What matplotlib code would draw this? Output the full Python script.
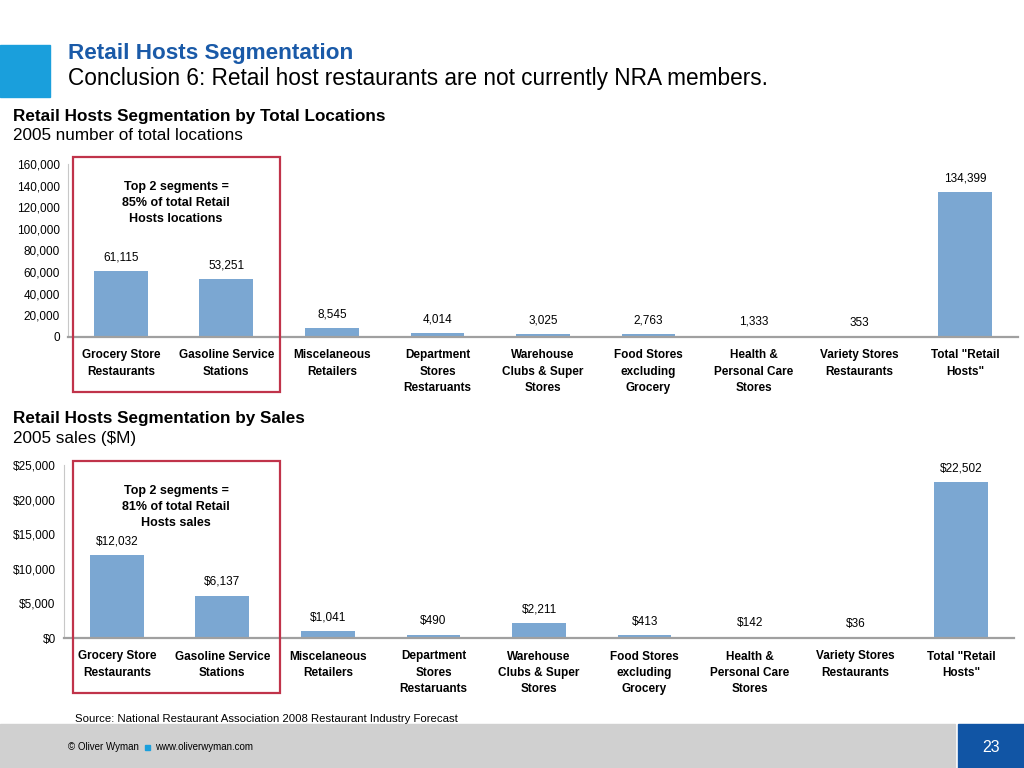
import matplotlib.pyplot as plt
from matplotlib.patches import Rectangle
import numpy as np

plt.rcParams['font.family'] = ['Liberation Sans', 'DejaVu Sans']

categories = ['Grocery Store\nRestaurants', 'Gasoline Service\nStations', 'Miscelaneous\nRetailers',
              'Department\nStores\nRestaruants', 'Warehouse\nClubs & Super\nStores',
              'Food Stores\nexcluding\nGrocery', 'Health &\nPersonal Care\nStores',
              'Variety Stores\nRestaurants', 'Total "Retail\nHosts"']
locations = [61115, 53251, 8545, 4014, 3025, 2763, 1333, 353, 134399]
sales = [12032, 6137, 1041, 490, 2211, 413, 142, 36, 22502]

loc_ticks = [0, 20000, 40000, 60000, 80000, 100000, 120000, 140000, 160000]
sales_ticks = [0, 5000, 10000, 15000, 20000, 25000]

bar_color = '#7ba7d2'
red = '#c0334a'
W, H = 1024, 768

fig = plt.figure(figsize=(10.24, 7.68), dpi=100)

def fx(px):
    return px / W

def fy(py):
    return 1 - py / H

# header
fig.patches.append(Rectangle((0, fy(97)), fx(50), 52 / H, transform=fig.transFigure,
                             color='#1a9fdc', zorder=0))
fig.text(fx(68), fy(53), 'Retail Hosts Segmentation', fontsize=16.2, fontweight='bold',
         color='#1a5aa8', va='center')
fig.text(fx(68), fy(78), 'Conclusion 6: Retail host restaurants are not currently NRA members.',
         fontsize=16.3, color='black', va='center')


def draw_chart(left_px, zero_px, top_px, values, ticks, ymax, tickfmt, valfmt, title, sub,
               title_y, box_top, box_bot, note):
    fig.text(fx(13), fy(title_y), title, fontsize=12.3, fontweight='bold', va='center')
    fig.text(fx(13), fy(title_y + 19), sub, fontsize=12.3, va='center')
    ax = fig.add_axes([fx(left_px), fy(zero_px), 950 / W, (zero_px - top_px) / H])
    x = np.arange(len(values))
    ax.bar(x, values, width=0.51, color=bar_color, zorder=2)
    ax.set_xlim(-0.5, len(values) - 0.5)
    ax.set_ylim(0, ymax)
    ax.set_yticks(ticks)
    ax.set_yticklabels([tickfmt(t) for t in ticks], fontsize=8.5)
    ax.set_xticks(x)
    ax.set_xticklabels(categories, fontsize=8.5, fontweight='bold')
    for t in ax.get_xticklabels():
        t.set_linespacing(1.45)
    ax.tick_params(axis='both', length=0)
    ax.tick_params(axis='x', pad=9)
    ax.tick_params(axis='y', pad=6)
    for s in ['top', 'right']:
        ax.spines[s].set_visible(False)
    ax.spines['left'].set_color('#c8c8c8')
    ax.spines['left'].set_linewidth(0.8)
    ax.spines['bottom'].set_color('#a0a0a0')
    ax.spines['bottom'].set_linewidth(1.6)
    ax.spines['bottom'].set_zorder(3)
    for xi, v in zip(x, values):
        ax.annotate(valfmt(v), (xi, v), xytext=(0, 5.5), textcoords='offset points',
                    ha='center', va='bottom', fontsize=8.5)
    fig.patches.append(Rectangle((fx(73), fy(box_bot)), fx(207), (box_bot - box_top) / H,
                                 transform=fig.transFigure, fill=False, edgecolor=red,
                                 linewidth=1.6, zorder=5))
    fig.text(fx(176), fy(box_top + 46), note, fontsize=9, fontweight='bold', ha='center',
             va='center', linespacing=1.45)
    return ax


draw_chart(68, 337, 164, locations, loc_ticks, 160000, lambda t: f'{t:,}', lambda v: f'{v:,}',
           'Retail Hosts Segmentation by Total Locations', '2005 number of total locations',
           116, 157, 392, 'Top 2 segments =\n85% of total Retail\nHosts locations')

draw_chart(64, 638, 465, sales, sales_ticks, 25000, lambda t: f'${t:,}', lambda v: f'${v:,}',
           'Retail Hosts Segmentation by Sales', '2005 sales ($M)',
           419, 461, 693, 'Top 2 segments =\n81% of total Retail\nHosts sales')

# footer
fig.text(fx(75), fy(719), 'Source: National Restaurant Association 2008 Restaurant Industry Forecast',
         fontsize=8.2, va='center')
fig.patches.append(Rectangle((0, 0), fx(955), 44 / H, transform=fig.transFigure,
                             color='#d0d0d0', zorder=0))
fig.patches.append(Rectangle((fx(958), 0), fx(66), 44 / H, transform=fig.transFigure,
                             color='#1155a5', zorder=0))
fig.text(fx(991), fy(747), '23', fontsize=11.5, color='white', ha='center', va='center')
fig.text(fx(68), fy(747), '© Oliver Wyman', fontsize=7, va='center')
fig.patches.append(Rectangle((fx(145), fy(750)), fx(5), 5 / H, transform=fig.transFigure,
                             color='#1a9fdc', zorder=1))
fig.text(fx(155), fy(747), 'www.oliverwyman.com', fontsize=7, va='center')

fig.savefig('out.png', dpi=100)
